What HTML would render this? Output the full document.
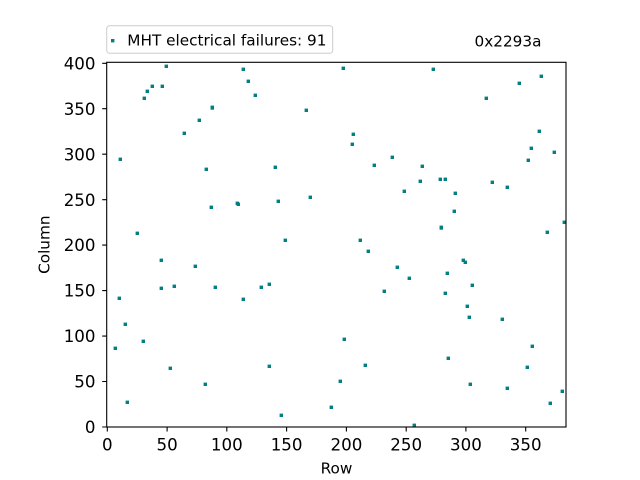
<!DOCTYPE html>
<html>
<head>
<meta charset="utf-8">
<style>
html,body{margin:0;padding:0;background:#fff;}
svg{display:block;}
text{font-family:"DejaVu Sans","Liberation Sans",sans-serif;fill:#000;}
</style>
</head>
<body>
<svg width="640" height="480" viewBox="0 0 640 480" xmlns="http://www.w3.org/2000/svg">
<defs>
<marker id="sq" markerWidth="4" markerHeight="4" refX="2" refY="2" markerUnits="userSpaceOnUse" overflow="visible">
<rect x="0.3" y="0.3" width="3.4" height="3.4" fill="#008080"/>
</marker>
</defs>
<rect x="0" y="0" width="640" height="480" fill="#fff"/>
<polyline fill="none" stroke="none" marker-start="url(#sq)" marker-mid="url(#sq)" marker-end="url(#sq)"
points="166.3,66.3 243.3,69.3 248.3,81.3 152.3,86.3 162.3,86.3 147.3,91.3 255.3,95.3 144.3,98.3 212.3,107.3 212.3,108 306.3,110.3 199.3,120.3 184.3,133.3 120.3,159.3 206.3,169.3 275.3,167.3 310.3,197.3 278.3,201.3 211.3,207.3 237.3,203.3 238.3,204.3 137.3,233.3 285.3,240.3 343.3,68.3 433.3,69.3 541.3,76.3 519.3,83.3 486.3,98.3 353.3,134.3 352.3,144.3 539.3,131.3 531.3,148.3 554.3,152.3 528.3,160.3 392.3,157.3 374.3,165.3 422.3,166.3 420.3,181.3 440.3,179.3 445.3,179.3 492.3,182.3 507.3,187.3 404.3,191.3 455.3,193.3 454.3,211.3 441.3,227.3 441.3,228 564.3,222.3 547.3,232.3 360.3,240.3 161.3,260.3 195.3,266.3 161.3,288.3 174.3,286.3 215.3,287.3 261.3,287.3 269.3,284.3 119.3,298.3 243.3,299.3 125.3,324.3 143.3,341.3 115.3,348.3 170.3,368.3 269.3,366.3 205.3,384.3 127.3,402.3 331.3,407.3 281.3,415.3 368.3,251.3 397.3,267.3 409.3,278.3 384.3,291.3 463.3,260.3 465.3,262.3 447.3,273.3 445.3,293.3 472.3,285.3 467.3,306.3 469.3,317.3 502.3,319.3 344.3,339.3 365.3,365.3 448.3,358.3 532.3,346.3 527.3,367.3 340.3,381.3 470.3,384.3 507.3,388.3 562.3,391.3 550.3,403.3 414.3,425.3"/>
<rect x="106.7" y="62.3" width="459.3" height="364.7" fill="none" stroke="#000" stroke-width="1.1"/>
<path fill="none" stroke="#000" stroke-width="1.1" d="M107.3 427v4.5M167.1 427v4.5M226.8 427v4.5M286.6 427v4.5M346.4 427v4.5M406.2 427v4.5M465.9 427v4.5M525.7 427v4.5M102.2 427h4.5M102.2 381.5h4.5M102.2 336.1h4.5M102.2 290.6h4.5M102.2 245.1h4.5M102.2 199.7h4.5M102.2 154.2h4.5M102.2 108.7h4.5M102.2 63.3h4.5"/>
<g font-size="16.67" text-anchor="middle">
<text x="107.3" y="450.7">0</text>
<text x="167.1" y="450.7">50</text>
<text x="226.8" y="450.7">100</text>
<text x="286.6" y="450.7">150</text>
<text x="346.4" y="450.7">200</text>
<text x="406.2" y="450.7">250</text>
<text x="465.9" y="450.7">300</text>
<text x="525.7" y="450.7">350</text>
</g>
<g font-size="16.67" text-anchor="end">
<text x="95.5" y="433.1">0</text>
<text x="95.5" y="387.6">50</text>
<text x="95.5" y="342.2">100</text>
<text x="95.5" y="296.7">150</text>
<text x="95.5" y="251.2">200</text>
<text x="95.5" y="205.8">250</text>
<text x="95.5" y="160.3">300</text>
<text x="95.5" y="114.8">350</text>
<text x="95.5" y="69.4">400</text>
</g>
<text x="336.5" y="473.3" font-size="15.28" text-anchor="middle">Row</text>
<text transform="translate(49.3,244.7) rotate(-90)" font-size="15.28" text-anchor="middle">Column</text>
<rect x="106.7" y="25.7" width="226" height="27.6" rx="3" ry="3" fill="#fff" stroke="#cccccc" stroke-width="1"/>
<rect x="111" y="39" width="3.4" height="3.4" fill="#008080"/>
<text x="127.3" y="45.3" font-size="15.28">MHT electrical failures: 91</text>
<text x="508" y="46.5" font-size="15.28" text-anchor="middle">0x2293a</text>
</svg>
</body>
</html>
